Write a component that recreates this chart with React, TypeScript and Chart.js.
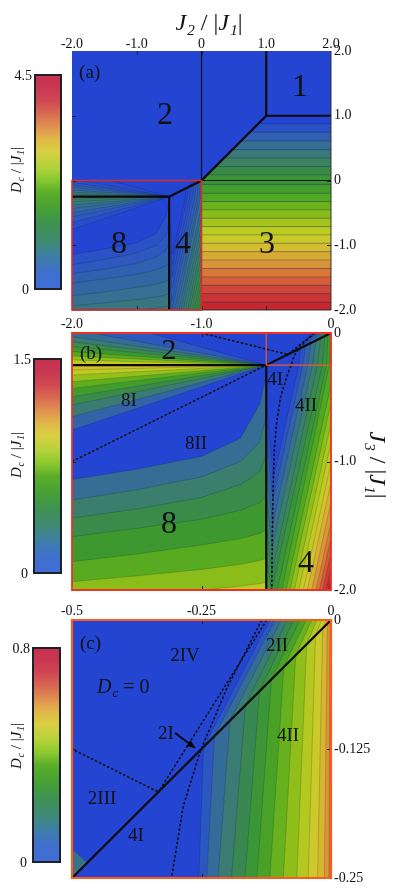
import React, { useEffect, useRef } from 'react';
import { Chart, registerables } from 'chart.js';
Chart.register(...registerables);

type Pt = [number, number];

// ================= DATA =================
// axis ticks
const aXTicks = [-2, -1, 0, 1, 2];
const aXTickLabels = ['-2.0', '-1.0', '0', '1.0', '2.0'];
const aYTicks = [2, 1, 0, -1, -2];
const aYTickLabels = ['2.0', '1.0', '0', '-1.0', '-2.0'];
const bXTicks = [-2, -1, 0];
const bXTickLabels = ['-2.0', '-1.0', '0'];
const bYTicks = [0, -1, -2];
const bYTickLabels = ['0', '-1.0', '-2.0'];
const cXTicks = [-0.5, -0.25, 0];
const cXTickLabels = ['-0.5', '-0.25', '0'];
const cYTicks = [0, -0.125, -0.25];
const cYTickLabels = ['0', '-0.125', '-0.25'];

// colour-bar ranges (Dc/|J1|)
const aColorMax = 4.5;
const bColorMax = 1.5;
const cColorMax = 0.8;

// panel (a), phase 3: horizontal contour bands (upper edge y) and Dc of each band
const a3BandTops = [1.0, 0.873, 0.744, 0.61, 0.476, 0.347, 0.213, 0.085, -0.06, -0.198, -0.327, -0.456, -0.584, -0.713, -0.842, -0.97, -1.1, -1.228, -1.36, -1.49, -1.62, -1.75, -1.88];
const a3BandValues = [0, 0.2, 0.4, 0.6, 0.8, 1.0, 1.2, 1.4, 1.6, 1.8, 2.0, 2.2, 2.4, 2.6, 2.8, 3.0, 3.2, 3.4, 3.6, 3.8, 4.0, 4.2, 4.4];

// phase 2 (y > -0.25) contours fanning from the triple point
const fanPivot: Pt = [-0.5, -0.25];
const region2FanEnds: Pt[] = [[-1.4, 0], [-1.85, 0], [-2, -0.029], [-2, -0.068], [-2, -0.106], [-2, -0.145], [-2, -0.179], [-2, -0.21]];
const region2FanValues = [0.1, 0.2, 0.28, 0.38, 0.5, 0.62, 0.75, 0.88];

// phase 8I contours fanning from the triple point
const region8FanEnds: Pt[] = [[-2, -0.755], [-2, -0.651], [-2, -0.56], [-2, -0.496], [-2, -0.431], [-2, -0.379], [-2, -0.327], [-2, -0.288]];
const region8FanValues = [0.15, 0.28, 0.4, 0.52, 0.64, 0.76, 0.88, 1.0];

// phase 8II contours (y at the listed x)
const region8LowerX = [-2, -1.5, -1.0, -0.7, -0.55, -0.5];
const region8LowerY = [
  [-1.14, -1.06, -0.96, -0.82, -0.55, -0.33],
  [-1.30, -1.22, -1.12, -1.0, -0.85, -0.65],
  [-1.44, -1.37, -1.28, -1.18, -1.08, -0.95],
  [-1.585, -1.52, -1.45, -1.38, -1.32, -1.27],
  [-1.78, -1.72, -1.65, -1.60, -1.56, -1.53],
  [-1.935, -1.89, -1.84, -1.80, -1.77, -1.75],
  [-2.1, -2.05, -2.0, -1.97, -1.95, -1.94],
];
const region8LowerValues = [0.2, 0.3, 0.4, 0.5, 0.62, 0.74, 0.86];

// phase 4 / 2II contours, panel (b) levels
const bRightValues = [0.075, 0.15, 0.225, 0.3, 0.375, 0.45, 0.525, 0.6, 0.675, 0.75, 0.825, 0.9, 0.975, 1.05, 1.125, 1.2, 1.275, 1.35, 1.425, 1.49];
const bRightLines: Pt[][] = [
  [[-0.113, 0], [-0.236, -0.118], [-0.248, -0.25], [-0.446, -1.135], [-0.52, -0.33]],
  [[-0.096, 0], [-0.195, -0.0975], [-0.218, -0.25], [-0.449, -1.3], [-0.52, -0.58]],
  [[-0.078, 0], [-0.152, -0.076], [-0.179, -0.25], [-0.451, -1.49], [-0.52, -0.83]],
  [[-0.06, 0], [-0.115, -0.0575], [-0.143, -0.25], [-0.454, -1.67], [-0.52, -1.08]],
  [[-0.043, 0], [-0.08, -0.04], [-0.105, -0.25], [-0.456, -1.86], [-0.52, -1.33]],
  [[-0.027, 0], [-0.047, -0.0235], [-0.066, -0.25], [-0.458, -2.0], [-0.52, -1.62]],
  [[-0.014, 0], [-0.023, -0.0115], [-0.035, -0.25], [-0.415, -2.0]],
  [[-0.004, 0], [-0.007, -0.0035], [-0.013, -0.25], [-0.381, -2.0]],
  [[0, -0.4], [-0.347, -2.0]],
  [[0, -0.54], [-0.317, -2.0]],
  [[0, -0.7], [-0.283, -2.0]],
  [[0, -0.85], [-0.249, -2.0]],
  [[0, -1.01], [-0.214, -2.0]],
  [[0, -1.16], [-0.183, -2.0]],
  [[0, -1.31], [-0.149, -2.0]],
  [[0, -1.47], [-0.116, -2.0]],
  [[0, -1.59], [-0.09, -2.0]],
  [[0, -1.71], [-0.064, -2.0]],
  [[0, -1.82], [-0.039, -2.0]],
  [[0, -1.9], [-0.021, -2.0]],
];

// phase 4 / 2II contours, panel (c) levels
const cRightValues = [0.05, 0.1, 0.15, 0.2, 0.25, 0.3, 0.35, 0.4, 0.45, 0.5, 0.55, 0.6, 0.65];
const cRightLines: Pt[][] = [
  [[-0.118, 0], [-0.246, -0.123], [-0.255, -0.25]],
  [[-0.108, 0], [-0.225, -0.1125], [-0.24, -0.25]],
  [[-0.096, 0], [-0.195, -0.0975], [-0.218, -0.25]],
  [[-0.084, 0], [-0.165, -0.0825], [-0.192, -0.25]],
  [[-0.072, 0], [-0.138, -0.069], [-0.166, -0.25]],
  [[-0.06, 0], [-0.115, -0.0575], [-0.143, -0.25]],
  [[-0.048, 0], [-0.091, -0.0455], [-0.118, -0.25]],
  [[-0.037, 0], [-0.068, -0.034], [-0.092, -0.25]],
  [[-0.027, 0], [-0.047, -0.0235], [-0.066, -0.25]],
  [[-0.018, 0], [-0.03, -0.015], [-0.044, -0.25]],
  [[-0.01, 0], [-0.016, -0.008], [-0.026, -0.25]],
  [[-0.004, 0], [-0.007, -0.0035], [-0.013, -0.25]],
  [[-0.001, 0], [-0.002, -0.001], [-0.004, -0.25]],
];
const cCornerWedge: Pt[] = [[-0.5, -0.25], [-0.5, -0.222], [-0.47, -0.235]];
const cCornerValue = 0.12;

// phase boundaries
const aBoundaries: Pt[][] = [
  [[1, 2], [1, 1], [2, 1]],
  [[1, 1], [0, 0], [-0.5, -0.25], [-2, -0.25]],
  [[-0.5, -0.25], [-0.5, -2]],
];
const aThinLines: Pt[][] = [
  [[0, 0], [0, 2]],
  [[0, 0], [2, 0]],
];
const bBoundaries: Pt[][] = [
  [[-2, -0.25], [-0.5, -0.25], [0, 0]],
  [[-0.5, -0.25], [-0.5, -2]],
];
const cBoundaries: Pt[][] = [
  [[-0.5, -0.25], [0, 0]],
];
// dashed sub-phase boundaries
const dashDiagonal: Pt[] = [[-2, -1], [-0.5, -0.25]];
const dashUpper: Pt[] = [[-1, 0], [-0.3333, -0.1667]];
const dashShort: Pt[] = [[-0.124, 0], [-0.3333, -0.1667]];
const dashCrease: Pt[] = [[-0.134, 0], [-0.201, -0.066], [-0.253, -0.128], [-0.285, -0.18], [-0.308, -0.25], [-0.345, -0.35], [-0.39, -0.5], [-0.42, -0.7], [-0.437, -0.9], [-0.447, -1.2], [-0.453, -1.6], [-0.458, -2]];
const cArrow: Pt[] = [[-0.301, -0.1095], [-0.2625, -0.124]];

// ================= STYLE =================
const SERIF = "'Liberation Serif', 'Times New Roman', Times, serif";
const FILL_STOPS: [number, string][] = [
  [0, '#2444d2'], [0.06, '#2d56c2'], [0.12, '#346a9c'], [0.19, '#3a7c72'], [0.26, '#3a8a4c'],
  [0.33, '#3c9830'], [0.4, '#50a822'], [0.46, '#74b61a'], [0.52, '#9ec21a'], [0.58, '#bccb22'],
  [0.64, '#d2c82c'], [0.7, '#d8b034'], [0.76, '#d89238'], [0.82, '#d86c38'], [0.88, '#d04838'],
  [0.94, '#c83234'], [1, '#c42030'],
];
const BAR_STOPS: [number, string][] = [
  [0, '#3e6ed6'], [0.08, '#3f70cc'], [0.16, '#3f80a0'], [0.22, '#3f8a74'], [0.3, '#3f9252'],
  [0.37, '#45a035'], [0.45, '#5aae2a'], [0.51, '#8ac830'], [0.57, '#b4d23a'], [0.64, '#d8d042'],
  [0.7, '#e0b848'], [0.76, '#e09050'], [0.82, '#d86a52'], [0.88, '#d04852'], [0.94, '#c83852'], [1, '#c83050'],
];
function hex(c: string) { return [1, 3, 5].map((i) => parseInt(c.slice(i, i + 2), 16)); }
function colorAt(t: number) {
  t = Math.max(0, Math.min(1, t));
  for (let i = 1; i < FILL_STOPS.length; i++) {
    const [t1, c1] = FILL_STOPS[i];
    if (t <= t1) {
      const [t0, c0] = FILL_STOPS[i - 1];
      const f = (t - t0) / (t1 - t0 || 1);
      const a = hex(c0), b = hex(c1);
      return `rgb(${a.map((v, k) => Math.round(v + (b[k] - v) * f)).join(',')})`;
    }
  }
  return FILL_STOPS[FILL_STOPS.length - 1][1];
}

const region2Clip: Pt[] = [[-2.2, 0], [0, 0], [-0.5, -0.25], [-2.2, -0.25]];
const region8Clip: Pt[] = [[-2.2, -0.25], [-0.5, -0.25], [-0.5, -2.2], [-2.2, -2.2]];
const region4Clip: Pt[] = [[-0.5, -2.2], [-0.5, 0], [0, 0], [0, -2.2]];
const region3Clip: Pt[] = [[0, 0], [1, 1], [2.2, 1], [2.2, -2.2], [0, -2.2]];
const rightClose: Pt[] = [[-0.6, -3], [2, -3], [2, 1]];

type Poly = { pts: Pt[]; value: number; clip: Pt[] | null };

function fanPolys(ends: Pt[], values: number[], clip: Pt[]): Poly[] {
  const [px, py] = fanPivot;
  return ends.map((f, i) => {
    const s = (-3 - px) / (f[0] - px);
    const ext: Pt = [-3, py + (f[1] - py) * s];
    return { pts: [fanPivot, ext, [-3, py]], value: values[i], clip };
  });
}
function lowerPolys(): Poly[] {
  return region8LowerY.map((ys, i) => {
    const line: Pt[] = region8LowerX.map((x, j) => [x, ys[j]] as Pt);
    const f = line[0], l = line[line.length - 1];
    return {
      pts: [[f[0] - 0.2, f[1]], ...line, [l[0] + 0.2, l[1]], [l[0] + 0.2, -3], [f[0] - 0.2, -3]],
      value: region8LowerValues[i], clip: region8Clip,
    };
  });
}
function rightPolys(lines: Pt[][], values: number[]): Poly[] {
  return lines.map((l, i) => ({ pts: [...l, ...rightClose], value: values[i], clip: region4Clip }));
}
function band3Polys(): Poly[] {
  return a3BandTops.map((top, i) => {
    const bot = i + 1 < a3BandTops.length ? a3BandTops[i + 1] : -2.2;
    return { pts: [[-1, top], [3, top], [3, bot], [-1, bot]] as Pt[], value: a3BandValues[i], clip: region3Clip };
  });
}
function lowerLeftPolys(): Poly[] {
  return [
    ...fanPolys(region2FanEnds, region2FanValues, region2Clip),
    ...fanPolys(region8FanEnds, region8FanValues, region8Clip),
    ...lowerPolys(),
    ...rightPolys(bRightLines, bRightValues),
  ];
}

type Seg = { t: string; it?: boolean; sub?: boolean };
function drawRich(ctx: any, segs: Seg[], x: number, y: number, size: number, o: any = {}) {
  const sub = Math.round(size * 0.64);
  const font = (s: Seg) => `${s.it ? 'italic ' : ''}${s.sub ? sub : size}px ${SERIF}`;
  const ws = segs.map((s) => { ctx.font = font(s); return ctx.measureText(s.t).width + (s.sub ? size * 0.05 : 0); });
  const total = ws.reduce((a, b) => a + b, 0);
  ctx.save();
  ctx.translate(x, y);
  if (o.rot) ctx.rotate(o.rot);
  let cx = o.align === 'left' ? 0 : o.align === 'right' ? -total : -total / 2;
  ctx.fillStyle = o.color || '#111';
  ctx.textBaseline = 'alphabetic';
  ctx.textAlign = 'left';
  const base = size * 0.34;
  segs.forEach((s, i) => {
    ctx.font = font(s);
    ctx.fillText(s.t, cx + (s.sub ? size * 0.05 : 0), base + (s.sub ? size * 0.22 : 0));
    cx += ws[i];
  });
  ctx.restore();
}
const txt = (t: string): Seg[] => [{ t }];
const jTitle = (n: string): Seg[] => [{ t: 'J', it: true }, { t: n, it: true, sub: true }, { t: ' / |' }, { t: 'J', it: true }, { t: '1', it: true, sub: true }, { t: '|' }];
const dcTitle: Seg[] = [{ t: 'D', it: true }, { t: 'c', it: true, sub: true }, { t: ' / |' }, { t: 'J', it: true }, { t: '1', it: true, sub: true }, { t: '|' }];

type Spec = {
  top: number; height: number; areaTop: number; areaBottom: number; tickPad: number;
  xMin: number; xMax: number; yMin: number; yMax: number;
  xTicks: number[]; xLabels: string[]; yTicks: number[]; yLabels: string[];
  max: number; polys: Poly[];
  thick: Pt[][]; thin: Pt[][]; dashed: Pt[][]; arrow?: Pt[];
  frames: { r: [number, number, number, number]; color: string; w: number; sides?: string }[];
  labels: { segs: Seg[]; x: number; y: number; size: number; align?: string }[];
  cbar: { x: number; y: number; w: number; h: number; top: string; titleY: number };
  titles: { segs: Seg[]; x: number; y: number; size: number; rot: number }[];
};

const specA: Spec = {
  top: 0, height: 330, areaTop: 51, areaBottom: 310, tickPad: -2,
  xMin: -2, xMax: 2, yMin: -2, yMax: 2,
  xTicks: aXTicks, xLabels: aXTickLabels, yTicks: aYTicks, yLabels: aYTickLabels,
  max: aColorMax, polys: [...lowerLeftPolys(), ...band3Polys()],
  thick: aBoundaries, thin: aThinLines, dashed: [],
  frames: [
    { r: [-2, -2, 2, 2], color: '#333', w: 1, sides: 'rb' },
    { r: [-2, -2, 0, 0], color: '#e02828', w: 1.6 },
  ],
  labels: [
    { segs: txt('(a)'), x: -1.89, y: 1.683, size: 19, align: 'left' },
    { segs: txt('2'), x: -0.564, y: 1.042, size: 32 },
    { segs: txt('1'), x: 1.521, y: 1.475, size: 32 },
    { segs: txt('8'), x: -1.274, y: -0.95, size: 32 },
    { segs: txt('4'), x: -0.286, y: -0.95, size: 32 },
    { segs: txt('3'), x: 1.012, y: -0.95, size: 32 },
  ],
  cbar: { x: 35, y: 75, w: 26, h: 214, top: '4.5', titleY: 170 },
  titles: [{ segs: jTitle('2'), x: 209, y: 22, size: 24, rot: 0 }],
};

const specB: Spec = {
  top: 300, height: 310, areaTop: 33, areaBottom: 290, tickPad: 0,
  xMin: -2, xMax: 0, yMin: -2, yMax: 0,
  xTicks: bXTicks, xLabels: bXTickLabels, yTicks: bYTicks, yLabels: bYTickLabels,
  max: bColorMax, polys: lowerLeftPolys(),
  thick: bBoundaries, thin: [], dashed: [dashDiagonal, dashUpper, dashShort, dashCrease],
  frames: [
    { r: [-0.5, -0.25, 0, 0], color: '#f05a28', w: 1.2 },
    { r: [-2, -2, 0, 0], color: '#f03024', w: 1.8 },
  ],
  labels: [
    { segs: txt('(b)'), x: -1.938, y: -0.152, size: 19, align: 'left' },
    { segs: txt('2'), x: -1.251, y: -0.125, size: 30 },
    { segs: txt('8I'), x: -1.56, y: -0.514, size: 19 },
    { segs: txt('8II'), x: -1.042, y: -0.856, size: 19 },
    { segs: txt('8'), x: -1.251, y: -1.471, size: 32 },
    { segs: txt('4I'), x: -0.432, y: -0.358, size: 19 },
    { segs: txt('4II'), x: -0.193, y: -0.56, size: 19 },
    { segs: txt('4'), x: -0.193, y: -1.774, size: 32 },
  ],
  cbar: { x: 34, y: 59, w: 27, h: 214, top: '1.5', titleY: 155 },
  titles: [{ segs: jTitle('3'), x: 378, y: 165, size: 24, rot: Math.PI / 2 }],
};

const specC: Spec = {
  top: 590, height: 305, areaTop: 30, areaBottom: 288, tickPad: 0,
  xMin: -0.5, xMax: 0, yMin: -0.25, yMax: 0,
  xTicks: cXTicks, xLabels: cXTickLabels, yTicks: cYTicks, yLabels: cYTickLabels,
  max: cColorMax,
  polys: [{ pts: cCornerWedge, value: cCornerValue, clip: null }, ...rightPolys(cRightLines, cRightValues)],
  thick: cBoundaries, thin: [], dashed: [dashUpper, dashShort, dashCrease], arrow: cArrow,
  frames: [{ r: [-0.5, -0.25, 0, 0], color: '#ff5a1e', w: 2.2 }],
  labels: [
    { segs: txt('(c)'), x: -0.4846, y: -0.0218, size: 19, align: 'left' },
    { segs: txt('2IV'), x: -0.2819, y: -0.0339, size: 19 },
    { segs: [{ t: 'D', it: true }, { t: 'c', it: true, sub: true }, { t: ' = 0' }], x: -0.4517, y: -0.064, size: 20, align: 'left' },
    { segs: txt('2II'), x: -0.1042, y: -0.0233, size: 19 },
    { segs: txt('2I'), x: -0.3185, y: -0.1095, size: 19 },
    { segs: txt('4II'), x: -0.083, y: -0.1114, size: 19 },
    { segs: txt('2III'), x: -0.442, y: -0.1725, size: 19 },
    { segs: txt('4I'), x: -0.3764, y: -0.2083, size: 19 },
  ],
  cbar: { x: 33, y: 58, w: 27, h: 214, top: '0.8', titleY: 156 },
  titles: [],
};

function makePlugin(spec: Spec) {
  return {
    id: 'panelDraw',
    beforeDatasetsDraw(chart: any) {
      const { ctx, chartArea: ca } = chart;
      const xs = chart.scales.x, ys = chart.scales.y;
      const path = (pts: Pt[]) => {
        ctx.beginPath();
        pts.forEach((p, i) => {
          const px = xs.getPixelForValue(p[0]), py = ys.getPixelForValue(p[1]);
          if (i) ctx.lineTo(px, py); else ctx.moveTo(px, py);
        });
        ctx.closePath();
      };
      ctx.save();
      ctx.beginPath();
      ctx.rect(ca.left, ca.top, ca.right - ca.left, ca.bottom - ca.top);
      ctx.clip();
      ctx.fillStyle = colorAt(0);
      ctx.fillRect(ca.left, ca.top, ca.right - ca.left, ca.bottom - ca.top);
      chart.data.datasets.forEach((ds: any) => {
        if (!ds.polyFill) return;
        ctx.save();
        if (ds.clipPoly) { path(ds.clipPoly); ctx.clip(); }
        path(ds.data.map((d: any) => [d.x, d.y]));
        ctx.fillStyle = ds.polyFill;
        ctx.fill();
        ctx.lineWidth = 0.6;
        ctx.strokeStyle = 'rgba(10,20,45,0.3)';
        ctx.stroke();
        ctx.restore();
      });
      ctx.restore();
    },
    afterDatasetsDraw(chart: any) {
      const { ctx, chartArea: ca } = chart;
      const xs = chart.scales.x, ys = chart.scales.y;
      const X = (v: number) => xs.getPixelForValue(v), Y = (v: number) => ys.getPixelForValue(v);
      if (spec.arrow) {
        const [a, b] = spec.arrow;
        const x0 = X(a[0]), y0 = Y(a[1]), x1 = X(b[0]), y1 = Y(b[1]);
        const ang = Math.atan2(y1 - y0, x1 - x0);
        ctx.save();
        ctx.fillStyle = '#000';
        ctx.beginPath();
        ctx.moveTo(x1, y1);
        ctx.lineTo(x1 - 8 * Math.cos(ang) + 3.5 * Math.sin(ang), y1 - 8 * Math.sin(ang) - 3.5 * Math.cos(ang));
        ctx.lineTo(x1 - 8 * Math.cos(ang) - 3.5 * Math.sin(ang), y1 - 8 * Math.sin(ang) + 3.5 * Math.cos(ang));
        ctx.closePath();
        ctx.fill();
        ctx.restore();
      }
      ctx.save();
      ctx.strokeStyle = '#222';
      ctx.lineWidth = 1;
      ctx.beginPath();
      spec.xTicks.forEach((v) => {
        if (v === spec.xMin || v === spec.xMax) return;
        const px = Math.round(X(v)) + 0.5;
        ctx.moveTo(px, ca.top); ctx.lineTo(px, ca.top + 4);
        ctx.moveTo(px, ca.bottom); ctx.lineTo(px, ca.bottom - 4);
      });
      spec.yTicks.forEach((v) => {
        if (v === spec.yMin || v === spec.yMax) return;
        const py = Math.round(Y(v)) + 0.5;
        ctx.moveTo(ca.left, py); ctx.lineTo(ca.left + 4, py);
        ctx.moveTo(ca.right, py); ctx.lineTo(ca.right - 4, py);
      });
      ctx.stroke();
      ctx.restore();
      spec.frames.forEach((f) => {
        const x0 = X(f.r[0]), y0 = Y(f.r[1]), x1 = X(f.r[2]), y1 = Y(f.r[3]);
        ctx.save();
        ctx.strokeStyle = f.color;
        ctx.lineWidth = f.w;
        ctx.beginPath();
        if (f.sides === 'rb') {
          ctx.moveTo(x1, y1); ctx.lineTo(x1, y0); ctx.lineTo(x0, y0);
        } else {
          ctx.rect(x0, y1, x1 - x0, y0 - y1);
        }
        ctx.stroke();
        ctx.restore();
      });
      spec.labels.forEach((l) => drawRich(ctx, l.segs, X(l.x), Y(l.y), l.size, { align: l.align }));
    },
    afterDraw(chart: any) {
      const { ctx } = chart;
      const cb = spec.cbar;
      const g = ctx.createLinearGradient(0, cb.y + cb.h, 0, cb.y);
      BAR_STOPS.forEach(([t, c]) => g.addColorStop(t, c));
      ctx.save();
      ctx.fillStyle = g;
      ctx.fillRect(cb.x, cb.y, cb.w, cb.h);
      ctx.strokeStyle = '#1c2228';
      ctx.lineWidth = 2;
      ctx.strokeRect(cb.x, cb.y, cb.w, cb.h);
      ctx.restore();
      drawRich(ctx, txt(cb.top), cb.x - 3, cb.y, 14, { align: 'right' });
      drawRich(ctx, txt('0'), cb.x - 6, cb.y + cb.h, 14, { align: 'right' });
      drawRich(ctx, dcTitle, 16, cb.titleY, 15, { rot: -Math.PI / 2 });
      spec.titles.forEach((t) => drawRich(ctx, t.segs, t.x, t.y, t.size, { rot: t.rot }));
    },
  };
}

function makeConfig(spec: Spec): any {
  const toXY = (pts: Pt[]) => pts.map(([x, y]) => ({ x, y }));
  const datasets: any[] = [
    ...spec.polys.map((p) => ({
      data: toXY(p.pts), polyFill: colorAt(p.value / spec.max), clipPoly: p.clip,
      showLine: false, pointRadius: 0, pointHoverRadius: 0,
    })),
    ...spec.thin.map((l) => ({ data: toXY(l), showLine: true, borderColor: '#111', borderWidth: 1.2, pointRadius: 0, fill: false })),
    ...spec.dashed.map((l) => ({ data: toXY(l), showLine: true, borderColor: '#111', borderWidth: 1.6, borderDash: [2.5, 2], pointRadius: 0, fill: false })),
    ...spec.thick.map((l) => ({ data: toXY(l), showLine: true, borderColor: '#0a0a0a', borderWidth: 2.2, pointRadius: 0, fill: false })),
    ...(spec.arrow ? [{ data: toXY(spec.arrow), showLine: true, borderColor: '#000', borderWidth: 1.6, pointRadius: 0, fill: false }] : []),
  ];
  const font = { family: SERIF, size: 14 };
  return {
    type: 'scatter',
    data: { datasets },
    plugins: [makePlugin(spec)],
    options: {
      responsive: false,
      animation: false,
      events: [],
      layout: { padding: { left: 72, right: 22, top: spec.areaTop - 20, bottom: spec.height - spec.areaBottom } },
      plugins: { legend: { display: false }, tooltip: { enabled: false } },
      scales: {
        x: {
          type: 'linear', position: 'top', min: spec.xMin, max: spec.xMax,
          grid: { display: false, drawTicks: false }, border: { display: false },
          ticks: {
            autoSkip: false, maxRotation: 0, padding: spec.tickPad, font, color: '#111',
            callback: (v: number) => { const i = spec.xTicks.findIndex((t) => Math.abs(t - v) < 1e-9); return i >= 0 ? spec.xLabels[i] : ''; },
          },
          afterBuildTicks: (s: any) => { s.ticks = spec.xTicks.map((v) => ({ value: v })); },
          afterFit: (s: any) => { s.height = 20; },
        },
        y: {
          type: 'linear', position: 'right', min: spec.yMin, max: spec.yMax,
          grid: { display: false, drawTicks: false }, border: { display: false },
          ticks: {
            autoSkip: false, padding: 3, font, color: '#111',
            callback: (v: number) => { const i = spec.yTicks.findIndex((t) => Math.abs(t - v) < 1e-9); return i >= 0 ? spec.yLabels[i] : ''; },
          },
          afterBuildTicks: (s: any) => { s.ticks = spec.yTicks.map((v) => ({ value: v })); },
          afterFit: (s: any) => { s.width = 45; },
        },
      },
    },
  };
}

export default function App() {
  const refA = useRef<HTMLCanvasElement>(null);
  const refB = useRef<HTMLCanvasElement>(null);
  const refC = useRef<HTMLCanvasElement>(null);
  useEffect(() => {
    const charts = [
      new Chart(refA.current as HTMLCanvasElement, makeConfig(specA)),
      new Chart(refB.current as HTMLCanvasElement, makeConfig(specB)),
      new Chart(refC.current as HTMLCanvasElement, makeConfig(specC)),
    ];
    return () => charts.forEach((c) => c.destroy());
  }, []);
  const cs = (s: Spec): React.CSSProperties => ({ position: 'absolute', left: 0, top: s.top, width: 398, height: s.height, display: 'block' });
  return (
    <div style={{ position: 'absolute', left: 0, top: 0, width: 398, height: 895, background: '#fff', overflow: 'hidden' }}>
      <canvas ref={refA} width={398} height={specA.height} style={cs(specA)} />
      <canvas ref={refB} width={398} height={specB.height} style={cs(specB)} />
      <canvas ref={refC} width={398} height={specC.height} style={cs(specC)} />
    </div>
  );
}
